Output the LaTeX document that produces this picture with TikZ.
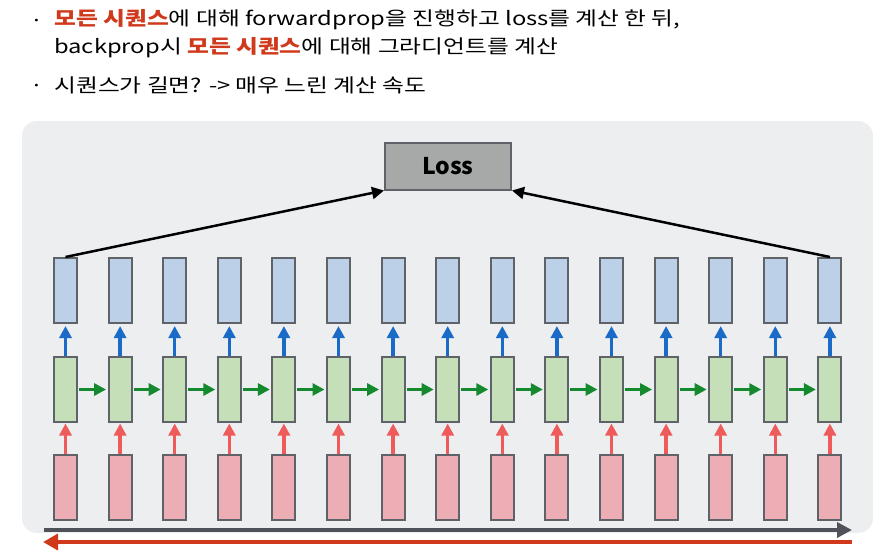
\documentclass[tikz,border=0pt]{standalone}
\usepackage{fontspec}
\setmainfont{Noto Sans CJK KR}
\newfontfamily\kortext[FakeStretch=1.25]{Noto Sans CJK KR}
\usepackage{tikz}
\usetikzlibrary{arrows.meta}

\definecolor{panel}{HTML}{EDEEF0}
\definecolor{edgegray}{HTML}{5F6369}
\definecolor{outblue}{HTML}{BCD1E8}
\definecolor{hidgreen}{HTML}{C5E0B8}
\definecolor{inpink}{HTML}{EDADB4}
\definecolor{arrblue}{HTML}{1A6AC8}
\definecolor{arrgreen}{HTML}{14892E}
\definecolor{arrred}{HTML}{EF5A5A}
\definecolor{hotred}{HTML}{D0391B}
\definecolor{lossgray}{HTML}{A6A9A8}
\definecolor{timegray}{HTML}{4F5359}

\tikzset{cell/.style={draw=edgegray,line width=2pt,inner sep=0pt,
                      minimum width=23pt,minimum height=65pt},
         txt/.style={anchor=west,inner sep=0pt,font=\kortext\fontsize{19}{20}\selectfont},
         uparrow/.style={-{Triangle[width=12pt,length=12pt]},line width=3.5pt}}

\begin{document}
\begin{tikzpicture}[x=1pt,y=-1pt,>={Triangle[width=12pt,length=12pt]},
                    semithick]

\useasboundingbox (0,0) rectangle (887,558);
\path[fill=panel,rounded corners=15pt] (22,121) rectangle (873,533);

% text on top
\node[txt] (b1) at (34,21) {\fontsize{10}{10}\selectfont •};
\node[txt] (t1) at (54,20) {\textcolor{hotred}{\bfseries 모든 시퀀스}에 대해 forwardprop을 진행하고 loss를 계산 한 뒤,};
\node[txt] (t2) at (54,48) {backprop시 \textcolor{hotred}{\bfseries 모든 시퀀스}에 대해 그라디언트를 계산};
\node[txt] (b3) at (34,86) {\fontsize{10}{10}\selectfont •};
\node[txt] (t3) at (54,85) {시퀀스가 길면? -> 매우 느린 계산 속도};

% unrolled cells
\foreach \i in {1,...,15} {
  \node[cell,fill=outblue]  (y\i) at (65.5+54.6*\i-54.6,290.5) {};
  \node[cell,fill=hidgreen] (h\i) at (65.5+54.6*\i-54.6,389.5) {};
  \node[cell,fill=inpink]   (x\i) at (65.5+54.6*\i-54.6,487.5) {};
  \draw[uparrow,arrblue,shorten >=2pt] (h\i.north) -- (y\i.south);
  \draw[uparrow,arrred,shorten >=0.5pt] (x\i.north) -- (h\i.south);
}
\foreach \i [count=\j from 2] in {1,...,14}
  \draw[->,arrgreen,line width=3.5pt,shorten <=1pt,shorten >=1.5pt] (h\i.east) -- (h\j.west);

\node[draw=edgegray,line width=2pt,fill=lossgray,minimum width=126pt,minimum height=47pt,
      font=\fontsize{23}{23}\selectfont\bfseries] (loss) at (448,166) {Loss};

\draw[->,line width=2.5pt] (y1.north) -- (loss.south west);
\draw[->,line width=2.5pt] (y15.north) -- (loss.south east);

% time arrows
\coordinate (ts) at (44,530);
\coordinate (te) at (852,530);
\coordinate (bs) at (852,542);
\coordinate (be) at (43,542);
\draw[-{Triangle[width=15pt,length=15pt]},timegray,line width=3.5pt] (ts) -- (te);
\draw[-{Triangle[width=16pt,length=15pt]},hotred,line width=3.5pt] (bs) -- (be);

\end{tikzpicture}
\end{document}
